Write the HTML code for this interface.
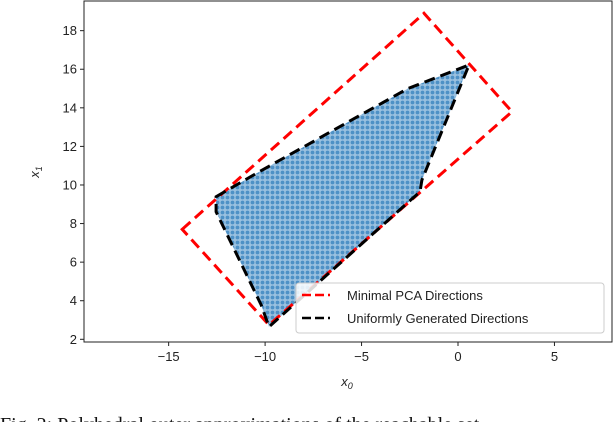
<!DOCTYPE html>
<html><head><meta charset="utf-8"><style>
html,body{margin:0;padding:0;background:#fff;width:614px;height:422px;overflow:hidden}
svg{display:block}
text{font-family:"Liberation Sans","DejaVu Sans",sans-serif;fill:#222}
</style></head><body>
<svg id="chart" width="614" height="422" viewBox="0 0 614 422">
<defs>
<pattern id="dots" width="5" height="5" patternUnits="userSpaceOnUse">
<rect width="5" height="5" fill="#8fbadc"/>
<circle cx="2.5" cy="2.5" r="1.9" fill="#3a85c0"/>
</pattern>
<clipPath id="plotclip"><rect x="84" y="1" width="528" height="341"/></clipPath>
</defs>
<g id="plot" clip-path="url(#plotclip)"></g>
<rect x="84" y="1" width="528" height="341" fill="none" stroke="#222" stroke-width="1"/>
<g id="axes"></g>
<text x="347" y="386" font-size="13" font-style="italic" text-anchor="middle">x<tspan font-size="9" dy="3">0</tspan></text>
<text transform="translate(39,172) rotate(-90)" font-size="13" font-style="italic" text-anchor="middle">x<tspan font-size="9" dy="3">1</tspan></text>
<g>
<rect x="296" y="283" width="308" height="50" rx="3" fill="#fff" fill-opacity="0.85" stroke="#ccc"/>
<line x1="302" y1="295" x2="330" y2="295" stroke="#f00" stroke-width="2.5" stroke-dasharray="9,4"/>
<text x="347" y="300" font-size="13">Minimal PCA Directions</text>
<line x1="302" y1="318" x2="330" y2="318" stroke="#000" stroke-width="2.5" stroke-dasharray="9,4"/>
<text x="347" y="323" font-size="13">Uniformly Generated Directions</text>
</g>
<text x="0" y="431" font-size="20" style="font-family:'Liberation Serif',serif;fill:#111">Fig. 2: Polyhedral outer approximations of the reachable set</text>
</svg>
<script>
const xTicks=[-15,-10,-5,0,5];
const yTicks=[2,4,6,8,10,12,14,16,18];
const hullX=[-12.54,-10.3,-2.59,0.57,-1.87,-1.97,-9.8,-10.2,-12.54];
const hullY=[9.39,10.69,15.0,16.22,10.26,9.65,2.65,3.78,8.61];
const pcaX=[-14.3,-1.76,2.8,-9.8];
const pcaY=[7.70,18.9,13.8,2.74];
const NS='http://www.w3.org/2000/svg';
function sx(v){return 458+(v-0)*19.29;}
function sy(v){return 339.3-(v-2)*19.29;}
const plot=document.getElementById('plot'),axes=document.getElementById('axes');
function mk(tag,attrs,parent){const e=document.createElementNS(NS,tag);for(const k in attrs)e.setAttribute(k,attrs[k]);parent.appendChild(e);return e;}
function pts(xs,ys){return xs.map((x,i)=>sx(x).toFixed(1)+','+sy(ys[i]).toFixed(1)).join(' ');}
const sc=mk('polygon',{points:pts(hullX,hullY),fill:'url(#dots)',opacity:'0.9'},plot);


const red=mk('polygon',{points:pts(pcaX,pcaY),fill:'none',stroke:'#f00','stroke-width':'3','stroke-dasharray':'11,6'},plot);


const blk=mk('polygon',{points:pts(hullX,hullY),fill:'none',stroke:'#000','stroke-width':'3','stroke-dasharray':'11,6'},plot);


xTicks.forEach(t=>{
  const x=sx(t);
  const l=mk('line',{x1:x,y1:342,x2:x,y2:346,stroke:'#222'},axes);
  
  
  const tx=mk('text',{x:x,y:361,'font-size':'13','text-anchor':'middle'},axes);
  tx.textContent=t<0?'\u2212'+Math.abs(t):String(t);
  
  
});
yTicks.forEach(t=>{
  const y=sy(t);
  const l=mk('line',{x1:80,y1:y,x2:84,y2:y,stroke:'#222'},axes);
  
  
  const tx=mk('text',{x:77,y:y+4.5,'font-size':'13','text-anchor':'end'},axes);
  tx.textContent=String(t);
  
  
});
</script>
</body></html>
